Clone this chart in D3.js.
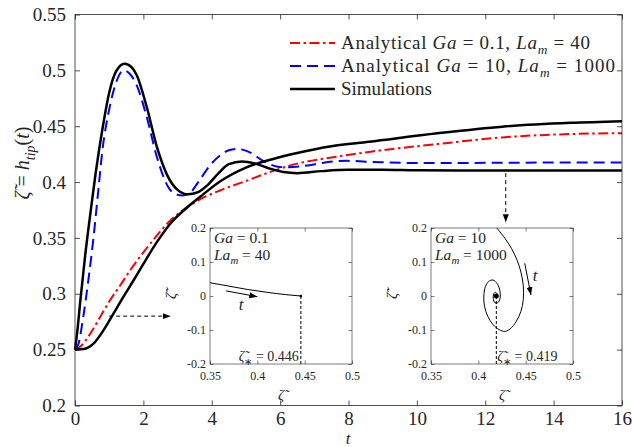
<!DOCTYPE html>
<html>
<head>
<meta charset="utf-8">
<script src="https://cdn.jsdelivr.net/npm/d3@7"></script>
<style>
  body { margin: 0; background: #fff; }
</style>
</head>
<body>
<div id="chart"></div>
<script>
// main curves
const tRed = [0, 0.2, 0.44, 0.73, 1.02, 1.32, 1.61, 2.0, 2.39, 2.78, 3.27, 3.75, 4.24, 5.0, 5.8, 6.5, 7.5, 8.6, 10.6, 12.5, 14.5, 16];
const zRed = [0.25, 0.254, 0.264, 0.279, 0.294, 0.3074, 0.3208, 0.337, 0.352, 0.3654, 0.3773, 0.386, 0.3925, 0.401, 0.41, 0.4165, 0.422, 0.427, 0.434, 0.44, 0.443, 0.4437];

const tBlue = [0, 0.1, 0.24, 0.39, 0.54, 0.68, 0.8, 1.0, 1.2, 1.42, 1.6, 1.8, 2.1, 2.4, 2.7, 2.95, 3.15, 3.35, 3.65, 3.95, 4.25, 4.5, 4.73, 5.1, 5.5, 5.9, 6.2, 6.8, 7.4, 7.95, 8.5, 9, 10, 12, 14, 16];
const zBlue = [0.25, 0.255, 0.279, 0.312, 0.35, 0.392, 0.428, 0.465, 0.489, 0.5, 0.497, 0.487, 0.458, 0.422, 0.397, 0.389, 0.388, 0.39, 0.402, 0.415, 0.424, 0.4285, 0.4297, 0.4268, 0.419, 0.414, 0.4132, 0.4148, 0.418, 0.419, 0.4183, 0.4177, 0.417, 0.4172, 0.4175, 0.4176];

const tSimOsc = [0, 0.08, 0.15, 0.3, 0.45, 0.6, 0.8, 1.0, 1.2, 1.45, 1.65, 1.8, 2.1, 2.4, 2.7, 3.0, 3.3, 3.6, 3.9, 4.2, 4.5, 4.88, 5.3, 5.7, 6.1, 6.5, 7.2, 8, 9, 10, 12, 14, 16];
const zSimOsc = [0.25, 0.27, 0.292, 0.335, 0.372, 0.407, 0.447, 0.48, 0.499, 0.506, 0.503, 0.496, 0.467, 0.431, 0.406, 0.393, 0.389, 0.391, 0.398, 0.408, 0.416, 0.4185, 0.4163, 0.412, 0.409, 0.408, 0.4098, 0.411, 0.411, 0.4105, 0.4103, 0.4103, 0.4103];

const tSimMono = [0, 0.25, 0.54, 0.83, 1.12, 1.41, 1.71, 2.0, 2.39, 2.78, 3.27, 3.75, 4.24, 5.0, 5.8, 6.5, 7.5, 8.6, 10.6, 12.5, 14.5, 16];
const zSimMono = [0.25, 0.2505, 0.2554, 0.2672, 0.282, 0.297, 0.3119, 0.3268, 0.346, 0.3625, 0.377, 0.389, 0.4005, 0.413, 0.4207, 0.426, 0.432, 0.436, 0.4436, 0.4496, 0.453, 0.4545];

const xTicks = [0, 2, 4, 6, 8, 10, 12, 14, 16];
const yTicks = [0.2, 0.25, 0.3, 0.35, 0.4, 0.45, 0.5, 0.55];

// phase portraits (zeta, dzeta/dt)
const insetXTicks = [0.35, 0.4, 0.45, 0.5];
const insetYTicks = [-0.2, -0.1, 0, 0.1, 0.2];
const phaseLowZ = [0.35, 0.37, 0.39, 0.41, 0.43, 0.446];
const phaseLowD = [0.039, 0.029, 0.019, 0.011, 0.004, 0];
const phaseHighZ = [0.4195, 0.428, 0.435, 0.441, 0.445, 0.4475, 0.4475, 0.445, 0.44, 0.4335, 0.428, 0.422, 0.4155, 0.41, 0.4065, 0.4058, 0.4075, 0.411, 0.4155, 0.42, 0.4228, 0.4228, 0.4205, 0.4175, 0.4158, 0.4162, 0.418, 0.4198, 0.4202, 0.419, 0.4185];
const phaseHighD = [0.2, 0.17, 0.14, 0.105, 0.07, 0.03, -0.01, -0.045, -0.075, -0.097, -0.104, -0.099, -0.084, -0.06, -0.03, 0, 0.028, 0.043, 0.047, 0.036, 0.015, -0.008, -0.02, -0.02, -0.008, 0.006, 0.011, 0.006, -0.003, -0.005, 0];

const FONT = "'Liberation Serif'";
const INK = "#262626";
const width = 632, height = 447;
const svg = d3.select("#chart").append("svg")
    .attr("width", width)
    .attr("height", height);

svg.append("defs").append("marker")
    .attr("id", "head")
    .attr("viewBox", "0 -4 8 8")
    .attr("refX", 8).attr("refY", 0)
    .attr("markerWidth", 8).attr("markerHeight", 8)
    .attr("markerUnits", "userSpaceOnUse")
    .attr("orient", "auto")
  .append("path")
    .attr("d", "M0,-3L8,0L0,3Z")
    .attr("fill", "#000");

const x = d3.scaleLinear().domain([0, 16]).range([75, 622]);
const y = d3.scaleLinear().domain([0.2, 0.55]).range([405.5, 14.5]);

// rich text helper: parts = [[str, flags]], flags: i italic, s subscript
function rich(g, px, py, parts, size, anchor) {
  const t = g.append("text")
      .attr("x", px).attr("y", py)
      .style("font-family", FONT)
      .style("font-size", size + "px")
      .style("fill", INK)
      .attr("text-anchor", anchor || "start");
  let base = 0;
  parts.forEach(([str, f = ""]) => {
    const s = t.append("tspan").text(str);
    const want = f.includes("s") ? size * 0.28 : 0;
    if (want !== base) { s.attr("dy", want - base); base = want; }
    if (f.includes("i")) s.style("font-style", "italic");
    if (f.includes("s")) s.style("font-size", (size * 0.7) + "px");
  });
  return t;
}

function frame(g, xs, ys, xt, yt, fs, tick, padX, padY, fmtX, fmtY, sw) {
  const [x0, x1] = xs.range(), [y0, y1] = ys.range();
  g.append("g").attr("transform", `translate(0,${y0})`)
      .call(d3.axisBottom(xs).tickValues(xt).tickSize(-tick).tickPadding(padX).tickFormat(fmtX));
  g.append("g").attr("transform", `translate(0,${y1})`)
      .call(d3.axisTop(xs).tickValues(xt).tickSize(-tick).tickFormat(""));
  g.append("g").attr("transform", `translate(${x0},0)`)
      .call(d3.axisLeft(ys).tickValues(yt).tickSize(-tick).tickPadding(padY).tickFormat(fmtY));
  g.append("g").attr("transform", `translate(${x1},0)`)
      .call(d3.axisRight(ys).tickValues(yt).tickSize(-tick).tickFormat(""));
  g.selectAll(".domain").remove();
  g.selectAll(".tick line").attr("stroke", INK).attr("stroke-width", sw);
  g.selectAll(".tick text")
      .style("font-family", FONT).style("font-size", fs + "px").style("fill", INK);
  g.append("rect")
      .attr("x", x0).attr("y", y1)
      .attr("width", x1 - x0).attr("height", y0 - y1)
      .attr("fill", "none").attr("stroke", INK).attr("stroke-width", sw);
}

const fmt = d => String(+d.toFixed(2));

const main = svg.append("g");

const line = d3.line().x(d => x(d[0])).y(d => y(d[1])).curve(d3.curveMonotoneX);
const zip = (a, b) => a.map((v, i) => [v, b[i]]);

main.append("path").datum(zip(tRed, zRed))
    .attr("d", line).attr("fill", "none")
    .attr("stroke", "#ff0000").attr("stroke-width", 2)
    .attr("stroke-dasharray", "10,3.5,2.5,3.5");
main.append("path").datum(zip(tBlue, zBlue))
    .attr("d", line).attr("fill", "none")
    .attr("stroke", "#0000ff").attr("stroke-width", 2)
    .attr("stroke-dasharray", "11,6");
main.append("path").datum(zip(tSimOsc, zSimOsc))
    .attr("d", line).attr("fill", "none")
    .attr("stroke", "#000").attr("stroke-width", 2.5);
main.append("path").datum(zip(tSimMono, zSimMono))
    .attr("d", line).attr("fill", "none")
    .attr("stroke", "#000").attr("stroke-width", 2.5);

frame(main, x, y, xTicks, yTicks, 19, 5, 6, 9, fmt, fmt, 0.8);

// axis labels
rich(main, 348, 444, [["t", "i"]], 17, "middle");
rich(main.append("g").attr("transform", "translate(29,163) rotate(-90)"), 0, 0,
  [["ζ\u0303", "i"], [" = "], ["h", "i"], ["tip", "is"], ["("], ["t", "i"], [")"]], 20, "middle");

// legend
const legend = [
  {y: 43, color: "#ff0000", dash: "10,3.5,2.5,3.5", w: 2, len: 249, parts: [["Analytical "], ["Ga", "i"], [" = 0.1,  "], ["La", "i"], ["m", "is"], [" = 40"]]},
  {y: 66, color: "#0000ff", dash: "11,6", w: 2, len: 274, parts: [["Analytical "], ["Ga", "i"], [" = 10,  "], ["La", "i"], ["m", "is"], [" = 1000"]]},
  {y: 89, color: "#000", dash: null, w: 2.5, len: null, parts: [["Simulations"]]}
];
legend.forEach(l => {
  main.append("line").attr("x1", 290).attr("x2", 335).attr("y1", l.y).attr("y2", l.y)
      .attr("stroke", l.color).attr("stroke-width", l.w).attr("stroke-dasharray", l.dash);
  const t = rich(main, 341, l.y + 6, l.parts, 19);
  if (l.len) t.attr("textLength", l.len).attr("lengthAdjust", "spacing");
});

// dashed pointer arrows
main.append("line")
    .attr("x1", x(1.0)).attr("y1", y(0.28)).attr("x2", x(2.8)).attr("y2", y(0.28))
    .attr("stroke", "#000").attr("stroke-width", 1).attr("stroke-dasharray", "4,3")
    .attr("marker-end", "url(#head)");
main.append("line")
    .attr("x1", x(12.6)).attr("y1", y(0.408)).attr("x2", x(12.6)).attr("y2", y(0.364))
    .attr("stroke", "#000").attr("stroke-width", 1).attr("stroke-dasharray", "4,3")
    .attr("marker-end", "url(#head)");

// insets
function inset(left, zs, ds, star, curve, ga, la, arrow, tPos, starAnchor) {
  const g = svg.append("g");
  const ix = d3.scaleLinear().domain([0.35, 0.5]).range([left, left + 142]);
  const iy = d3.scaleLinear().domain([-0.2, 0.2]).range([364, 228]);
  g.append("rect").attr("x", left).attr("y", 228).attr("width", 142).attr("height", 136).attr("fill", "#fff");
  const ln = d3.line().x(d => ix(d[0])).y(d => iy(d[1])).curve(curve);
  g.append("path").datum(zip(zs, ds)).attr("d", ln)
      .attr("fill", "none").attr("stroke", "#000").attr("stroke-width", 1);
  g.append("line")
      .attr("x1", ix(star)).attr("x2", ix(star)).attr("y1", iy(0)).attr("y2", iy(-0.2))
      .attr("stroke", "#000").attr("stroke-width", 1).attr("stroke-dasharray", "3,2");
  g.append("circle").attr("cx", ix(star)).attr("cy", iy(0)).attr("r", star < 0.44 ? 2.5 : 1.3).attr("fill", "#000");
  frame(g, ix, iy, insetXTicks, insetYTicks, 12, 3.5, 7, 4, fmt, fmt, 0.6);
  rich(g, left + 4, 243, [["Ga", "i"], [" = " + ga]], 15.5);
  rich(g, left + 4, 260, [["La", "i"], ["m", "is"], [" = " + la]], 15.5);
  const sx = starAnchor === "end" ? ix(star) - 2 : ix(star) + 1;
  rich(g, sx, 361, [["ζ\u0303", "i"], ["∗", "s"], [" = " + star.toFixed(3)]], 14, starAnchor);
  rich(g, left + 71, 400, [["ζ\u0303", "i"]], 15, "middle");
  rich(g.append("g").attr("transform", `translate(${left - 34},296) rotate(-90)`), 0, 0,
    [["ζ\u0303\u0307", "i"]], 15, "middle");
  g.append("line")
      .attr("x1", ix(arrow[0])).attr("y1", iy(arrow[1])).attr("x2", ix(arrow[2])).attr("y2", iy(arrow[3]))
      .attr("stroke", "#000").attr("stroke-width", 1).attr("marker-end", "url(#head)");
  rich(g, ix(tPos[0]), iy(tPos[1]), [["t", "i"]], 17, "middle");
}

inset(210, phaseLowZ, phaseLowD, 0.446, d3.curveMonotoneX, "0.1", "40",
  [0.367, 0.015, 0.4, -0.002], [0.383, -0.04], "end");
inset(431, phaseHighZ, phaseHighD, 0.419, d3.curveCatmullRom.alpha(0.5), "10", "1000",
  [0.449, 0.096, 0.4556, 0.003], [0.46, 0.045], "start");
</script>
</body>
</html>
